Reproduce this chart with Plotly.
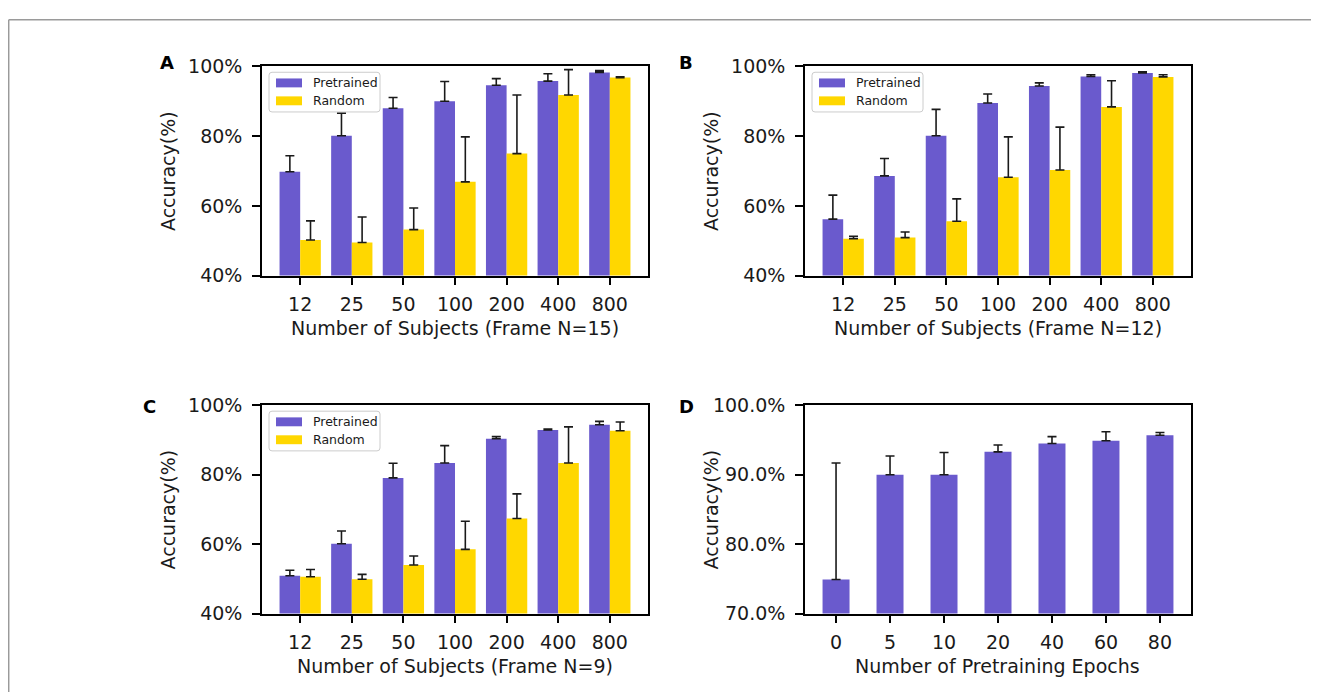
import plotly.graph_objects as go

# ---------------- data ----------------
subjects = ["12", "25", "50", "100", "200", "400", "800"]
epochs = ["0", "5", "10", "20", "40", "60", "80"]

A_pre = [69.8, 80.1, 88.0, 90.0, 94.6, 95.8, 98.3]
A_pre_err = [4.6, 6.5, 3.1, 5.7, 1.9, 2.1, 0.5]
A_rand = [50.2, 49.5, 53.2, 66.9, 75.0, 91.8, 96.8]
A_rand_err = [5.5, 7.3, 6.2, 12.9, 16.8, 7.3, 0.2]

B_pre = [56.2, 68.6, 80.1, 89.5, 94.4, 97.1, 98.1]
B_pre_err = [6.9, 5.0, 7.6, 2.6, 0.9, 0.5, 0.4]
B_rand = [50.6, 50.9, 55.6, 68.2, 70.3, 88.4, 97.0]
B_rand_err = [0.7, 1.6, 6.4, 11.6, 12.3, 7.5, 0.6]

C_pre = [50.9, 60.1, 79.1, 83.4, 90.4, 92.9, 94.4]
C_pre_err = [1.6, 3.7, 4.2, 5.0, 0.6, 0.3, 1.0]
C_rand = [50.6, 49.9, 54.0, 58.5, 67.4, 83.4, 92.7]
C_rand_err = [2.1, 1.4, 2.6, 8.1, 7.1, 10.4, 2.5]

D_pre = [74.9, 90.0, 90.0, 93.3, 94.5, 94.9, 95.7]
D_pre_err = [16.8, 2.7, 3.2, 1.0, 1.0, 1.3, 0.4]

series_names = ["Pretrained", "Random"]
x_titles = ["Number of Subjects (Frame N=15)", "Number of Subjects (Frame N=12)",
            "Number of Subjects (Frame N=9)", "Number of Pretraining Epochs"]

# ---------------- style ----------------
W, H = 1319, 695
OFF = 8  # page body margin in the browser
PURPLE = "#6A5ACD"
GOLD = "#FFD700"
FONT = "DejaVu Sans"
FS = 19

def X(px):
    return (px - OFF) / W

def Y(py):
    return 1 - (py - OFF) / H

# panel pixel boxes on the page (left, right, top, bottom)
boxes = {
    "A": (262, 648, 57, 273),
    "B": (805, 1191, 57, 273),
    "C": (262, 648, 407, 622),
    "D": (805, 1191, 407, 622),
}
axis_ids = {"A": ("x", "y"), "B": ("x2", "y2"), "C": ("x3", "y3"), "D": ("x4", "y4")}

fig = go.Figure()

def err(arr):
    return dict(type="data", symmetric=False, array=arr, arrayminus=[0] * len(arr),
                color="#1a1a1a", thickness=1.6, width=4.5)

panel_data = {
    "A": (A_pre, A_pre_err, A_rand, A_rand_err),
    "B": (B_pre, B_pre_err, B_rand, B_rand_err),
    "C": (C_pre, C_pre_err, C_rand, C_rand_err),
}
for p, (pre, pre_e, rnd, rnd_e) in panel_data.items():
    xa, ya = axis_ids[p]
    fig.add_trace(go.Bar(x=subjects, y=pre, name=series_names[0], marker_color=PURPLE,
                         marker_line_width=0, error_y=err(pre_e), xaxis=xa, yaxis=ya,
                         offsetgroup="1", showlegend=False))
    fig.add_trace(go.Bar(x=subjects, y=rnd, name=series_names[1], marker_color=GOLD,
                         marker_line_width=0, error_y=err(rnd_e), xaxis=xa, yaxis=ya,
                         offsetgroup="2", showlegend=False))

fig.add_trace(go.Bar(x=epochs, y=D_pre, name=series_names[0], marker_color=PURPLE,
                     marker_line_width=0, error_y=err(D_pre_err), xaxis="x4", yaxis="y4",
                     width=0.5, showlegend=False))

layout = dict(
    width=W, height=H, margin=dict(l=0, r=0, t=0, b=0),
    paper_bgcolor="white", plot_bgcolor="white",
    barmode="group", bargap=0.2, bargroupgap=0,
    font=dict(family=FONT, size=FS, color="#1a1a1a"),
    showlegend=False,
)

for p, (l, r, t, b) in boxes.items():
    xa, ya = axis_ids[p]
    xkey = "xaxis" + xa[1:]
    ykey = "yaxis" + ya[1:]
    is_d = p == "D"
    layout[xkey] = dict(
        domain=[X(l), X(r)], anchor=ya, type="category",
        range=[-0.575, 6.575] if is_d else [-0.74, 6.74],
        showline=True, linecolor="black", linewidth=1.6, mirror=True,
        ticks="outside", ticklen=8, tickwidth=1.5, tickcolor="black",
        showgrid=False, zeroline=False, tickfont=dict(size=FS),
        ticklabelstandoff=3,
    )
    yd = dict(
        domain=[Y(b), Y(t)], anchor=xa,
        showline=True, linecolor="black", linewidth=1.6, mirror=True,
        ticks="outside", ticklen=8, tickwidth=1.5, tickcolor="black",
        showgrid=False, zeroline=False, tickfont=dict(size=FS),
        ticklabelstandoff=6,
    )
    if is_d:
        yd.update(range=[70, 100], tickvals=[70, 80, 90, 100],
                  ticktext=["70.0%", "80.0%", "90.0%", "100.0%"])
    else:
        yd.update(range=[40, 100], tickvals=[40, 60, 80, 100],
                  ticktext=["40%", "60%", "80%", "100%"])
    layout[ykey] = yd

fig.update_layout(**layout)

annotations = []
shapes = []

# axis titles
for i, p in enumerate(["A", "B", "C", "D"]):
    l, r, t, b = boxes[p]
    annotations.append(dict(text=x_titles[i], x=X((l + r) / 2), y=Y(b + 54), xref="paper",
                            yref="paper", showarrow=False, xanchor="center", yanchor="middle",
                            font=dict(size=FS, family=FONT, color="#1a1a1a")))
    annotations.append(dict(text="Accuracy(%)", x=X(l - 94), y=Y((t + b) / 2), xref="paper",
                            yref="paper", showarrow=False, xanchor="center", yanchor="middle",
                            textangle=-90, font=dict(size=FS, family=FONT, color="#1a1a1a")))

# panel letters
letter_pos = {"A": (167, 53), "B": (686, 53), "C": (149, 408), "D": (686, 408)}
for p, (lx, ly) in letter_pos.items():
    annotations.append(dict(text="<b>%s</b>" % p, x=X(lx), y=Y(ly), xref="paper", yref="paper",
                            showarrow=False, xanchor="center", yanchor="middle",
                            font=dict(size=18, family=FONT, color="black")))

# legends (drawn as boxes + swatches + text)
def rounded_rect(x0, y0, x1, y1, rad):
    rx, ry = rad / W, rad / H
    X0, X1, Y0, Y1 = X(x0), X(x1), Y(y1), Y(y0)  # Y0 bottom, Y1 top
    return ("M {a},{Y1} L {b},{Y1} Q {X1},{Y1} {X1},{c} L {X1},{d} Q {X1},{Y0} {b},{Y0} "
            "L {a},{Y0} Q {X0},{Y0} {X0},{d} L {X0},{c} Q {X0},{Y1} {a},{Y1} Z").format(
        a=X0 + rx, b=X1 - rx, c=Y1 - ry, d=Y0 + ry, X0=X0, X1=X1, Y0=Y0, Y1=Y1)

for p in ["A", "B", "C"]:
    l, r, t, b = boxes[p]
    bx0, by0 = l + 7, t + 6
    shapes.append(dict(type="path", path=rounded_rect(bx0, by0, bx0 + 111, by0 + 41, 3),
                       xref="paper", yref="paper", fillcolor="rgba(255,255,255,0.8)",
                       line=dict(color="#cccccc", width=1), layer="above"))
    for k, (nm, col) in enumerate(zip(series_names, [PURPLE, GOLD])):
        cy = by0 + 11 + k * 18.5
        shapes.append(dict(type="rect", x0=X(bx0 + 7), x1=X(bx0 + 33), y0=Y(cy - 4.6),
                           y1=Y(cy + 4.6), xref="paper", yref="paper", fillcolor=col,
                           line=dict(width=0), layer="above"))
        annotations.append(dict(text=nm, x=X(bx0 + 42), y=Y(cy), xref="paper", yref="paper",
                                showarrow=False, xanchor="left", yanchor="middle",
                                font=dict(size=12.5, family=FONT, color="#1a1a1a")))

# outer frame lines (top and left), as close to the page corner as the figure allows
shapes.append(dict(type="line", x0=X(8.7), x1=1, y0=Y(8.7), y1=Y(8.7), xref="paper",
                   yref="paper", line=dict(color="#9a9a9a", width=1.5)))
shapes.append(dict(type="line", x0=X(8.7), x1=X(8.7), y0=Y(8.7), y1=0, xref="paper",
                   yref="paper", line=dict(color="#9a9a9a", width=1.5)))

fig.update_layout(annotations=annotations, shapes=shapes)
fig.write_html("out.html")
